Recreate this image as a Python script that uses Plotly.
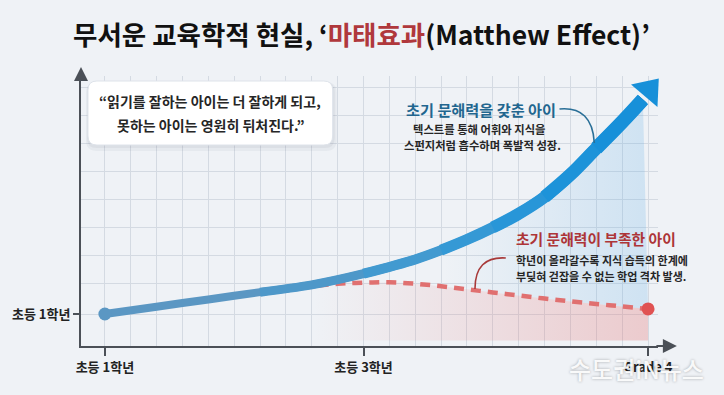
import plotly.graph_objects as go

# ---------------- data ----------------
step_u = [0, 2, 4, 6, 8, 10, 12, 13, 14, 15, 16, 17, 18, 19, 20, 20.8]
strong_v = [0, 0.26, 0.52, 0.78, 1.04, 1.44, 1.95, 2.28, 2.66, 3.09, 3.58, 4.18, 4.98, 5.92, 6.86, 7.66]
arrow_head_u = 21.04
arrow_head_v = 8.0
weak_u = [7.6, 9, 10, 11, 12, 13, 14, 15, 16, 17, 18, 19, 20, 21]
weak_v = [0.96, 1.08, 1.12, 1.13, 1.08, 0.99, 0.88, 0.77, 0.66, 0.55, 0.45, 0.36, 0.27, 0.18]
x_tick_vals = [0, 10, 21]
x_tick_text = ['초등 1학년', '초등 3학년', 'Grade 4']
y_tick_vals = [0]
y_tick_text = ['초등 1학년']
x_grid = list(range(0, 22))
y_grid = [0, 1.1, 2.1, 3.1, 4.1, 5.1, 6.1, 7.1, 8.1]
floor_v = -0.95

# ---------------- layout geometry ----------------
W, H = 724, 395
L, R, T, B = 78, 66, 76, 49
PW, PH = W - L - R, H - T - B
FONT = 'Noto Sans CJK KR'
BG = '#eff2f6'
GRID = '#d4dae2'
AXIS = '#4b5057'


def px(x):
    return (x - L) / PW


def py(y):
    return (H - B - y) / PH


def rrect(x0, y0, x1, y1, r):
    pts = []
    pts.append('M%.5f,%.5f' % (px(x0 + r), py(y0)))
    pts.append('L%.5f,%.5f' % (px(x1 - r), py(y0)))
    pts.append('Q%.5f,%.5f %.5f,%.5f' % (px(x1), py(y0), px(x1), py(y0 + r)))
    pts.append('L%.5f,%.5f' % (px(x1), py(y1 - r)))
    pts.append('Q%.5f,%.5f %.5f,%.5f' % (px(x1), py(y1), px(x1 - r), py(y1)))
    pts.append('L%.5f,%.5f' % (px(x0 + r), py(y1)))
    pts.append('Q%.5f,%.5f %.5f,%.5f' % (px(x0), py(y1), px(x0), py(y1 - r)))
    pts.append('L%.5f,%.5f' % (px(x0), py(y0 + r)))
    pts.append('Q%.5f,%.5f %.5f,%.5f Z' % (px(x0), py(y0), px(x0 + r), py(y0)))
    return ' '.join(pts)


def qcurve(x0, y0, cx, cy, x1, y1):
    return 'M%.5f,%.5f Q%.5f,%.5f %.5f,%.5f' % (px(x0), py(y0), px(cx), py(cy), px(x1), py(y1))


fig = go.Figure()

# red fill under weak curve
fig.add_trace(go.Scatter(x=[weak_u[0], weak_u[-1]], y=[floor_v, floor_v], mode='lines',
                         line=dict(width=0), hoverinfo='skip'))
fig.add_trace(go.Scatter(x=weak_u, y=weak_v, mode='lines', line=dict(width=0, shape='spline'),
                         fill='tonexty', hoverinfo='skip',
                         fillgradient=dict(type='horizontal', start=8, stop=21,
                                           colorscale=[[0, 'rgba(228,110,110,0)'],
                                                       [1, 'rgba(228,110,110,0.30)']])))
# blue fill between curves
fig.add_trace(go.Scatter(x=step_u[5:], y=strong_v[5:], mode='lines', line=dict(width=0, shape='spline'),
                         fill='tonexty', hoverinfo='skip',
                         fillgradient=dict(type='horizontal', start=13, stop=21,
                                           colorscale=[[0, 'rgba(90,170,228,0)'],
                                                       [1, 'rgba(90,170,228,0.22)']])))

# weak (red dashed) line
fig.add_trace(go.Scatter(x=weak_u, y=weak_v, mode='lines',
                         line=dict(color='#e07070', width=4.5, dash='10px,7px', shape='spline'),
                         hoverinfo='skip'))
fig.add_trace(go.Scatter(x=[weak_u[-1]], y=[weak_v[-1]], mode='markers',
                         marker=dict(size=13, color='#e05252', opacity=1), hoverinfo='skip', cliponaxis=False))

# strong (blue) line drawn as overlapping sub-paths of growing width
segs = [(0, 8.0, '#5b97c3'), (3, 9.0, '#4e98c9'), (5, 10.0, '#429ad0'), (7, 11.0, '#3599d5'),
        (9, 12.0, '#2896d8'), (11, 13.0, '#1d93d9'), (13, 14.0, '#1790d9')]
for a, w, c in segs:
    fig.add_trace(go.Scatter(x=step_u[a:], y=strong_v[a:], mode='lines',
                             line=dict(color=c, width=w, shape='spline', smoothing=1.0),
                             hoverinfo='skip', cliponaxis=False))
fig.add_trace(go.Scatter(x=[step_u[-2], arrow_head_u], y=[strong_v[-2], arrow_head_v], mode='markers',
                         marker=dict(symbol=['circle', 'triangle-up'], size=[0, 30], color='#1790d9',
                                     opacity=1, angleref='previous', line=dict(width=0)),
                         hoverinfo='skip', cliponaxis=False))
fig.add_trace(go.Scatter(x=[step_u[0]], y=[strong_v[0]], mode='markers',
                         marker=dict(size=13, color='#5b97c3', opacity=1), hoverinfo='skip', cliponaxis=False))

# ---------------- shapes ----------------
shapes = [
    dict(type='path', xref='paper', yref='paper', path=rrect(83, 82, 335, 151, 11),
         fillcolor='rgba(60,70,90,0.05)', line=dict(width=0), layer='above'),
    dict(type='path', xref='paper', yref='paper', path=rrect(84, 82, 333, 148, 10),
         fillcolor='rgba(60,70,90,0.06)', line=dict(width=0), layer='above'),
    dict(type='path', xref='paper', yref='paper', path=rrect(85, 81, 331, 145, 9),
         fillcolor='#ffffff', line=dict(color='rgba(222,227,234,1)', width=1), layer='above'),
    dict(type='path', xref='paper', yref='paper', path=qcurve(559, 109, 592, 106, 594, 143),
         line=dict(color='#2a6f97', width=1.6), layer='above'),
    dict(type='path', xref='paper', yref='paper', path=qcurve(505, 258, 474, 256, 474, 289),
         line=dict(color='#a83a3a', width=1.6), layer='above'),
]

ann = []


def text(x, y, s, size, color, weight='bold', xanchor='center', align='center'):
    ann.append(dict(x=px(x), y=py(y), xref='paper', yref='paper', text=s, showarrow=False,
                    xanchor=xanchor, yanchor='middle', align=align,
                    font=dict(family=FONT, size=size, color=color, weight=weight)))


text(360, 33, '무서운 교육학적 현실, ‘<span style="color:#b0383c">마태효과</span>(Matthew Effect)’',
     26.5, '#111111')
text(208, 101, '“읽기를 잘하는 아이는 더 잘하게 되고,', 14, '#262626')
text(208, 125, '못하는 아이는 영원히 뒤처진다.”', 14, '#262626')
text(480, 109, '초기 문해력을 갖춘 아이', 15.2, '#22668f')
text(478, 128.5, '텍스트를 통해 어휘와 지식을', 11.3, '#262626', weight=600)
text(482, 145, '스펀지처럼 흡수하며 폭발적 성장.', 11.3, '#262626', weight=600)
text(513, 238, '초기 문해력이 부족한 아이', 14.8, '#ad3538', xanchor='left', align='left')
text(513, 260, '학년이 올라갈수록 지식 습득의 한계에', 11, '#262626', weight=600, xanchor='left', align='left')
text(513, 275.5, '부딪혀 걷잡을 수 없는 학업 격차 발생.', 11, '#262626', weight=600, xanchor='left', align='left')

# axis arrows
ann.append(dict(x=px(78), y=py(67), xref='paper', yref='paper', ax=0, ay=14, text='', showarrow=True,
                arrowhead=2, arrowsize=1.4, arrowwidth=2, arrowcolor=AXIS))
ann.append(dict(x=px(677), y=py(346), xref='paper', yref='paper', ax=-22, ay=0, text='', showarrow=True,
                arrowhead=2, arrowsize=1.4, arrowwidth=2, arrowcolor=AXIS))

# watermark
ann.append(dict(x=px(636), y=py(368), xref='paper', yref='paper', text='수도권iN뉴스', showarrow=False,
                xanchor='center', yanchor='middle',
                font=dict(family=FONT, size=24, color='rgba(255,255,255,0.92)', weight=500,
                          shadow='0px 0px 3px rgba(0,0,0,0.35)')))

fig.update_layout(
    width=W, height=H, margin=dict(l=L, r=R, t=T, b=B),
    paper_bgcolor=BG, plot_bgcolor=BG, showlegend=False,
    font=dict(family=FONT, color='#222222'),
    shapes=shapes, annotations=ann,
    xaxis=dict(range=[(L - 102) / 26, (W - R - 102) / 26], tickmode='array', tickvals=x_tick_vals,
               ticktext=x_tick_text, showgrid=True, gridcolor=GRID, gridwidth=1, zeroline=False,
               showline=True, linecolor=AXIS, linewidth=2, ticks='outside', ticklen=8, tickwidth=1.5,
               tickcolor=AXIS, tickfont=dict(family=FONT, size=13, color='#222222', weight='bold'),
               minor=dict(tickmode='array', tickvals=x_grid, showgrid=True, gridcolor=GRID, gridwidth=1,
                          ticks=''),
               fixedrange=True),
    yaxis=dict(range=[(314 - (H - B)) / 28, (314 - T) / 28], tickmode='array', tickvals=y_tick_vals,
               ticktext=y_tick_text, showgrid=True, gridcolor=GRID, gridwidth=1, zeroline=False,
               showline=True, linecolor=AXIS, linewidth=2, ticks='outside', ticklen=6, tickwidth=1.5,
               tickcolor=AXIS, tickfont=dict(family=FONT, size=13, color='#222222', weight='bold'),
               minor=dict(tickmode='array', tickvals=y_grid, showgrid=True, gridcolor=GRID, gridwidth=1,
                          ticks=''),
               fixedrange=True),
)

fig.write_html('out.html', config={'displayModeBar': False},
               post_script="document.body.style.margin='0';document.body.style.overflow='hidden';")
